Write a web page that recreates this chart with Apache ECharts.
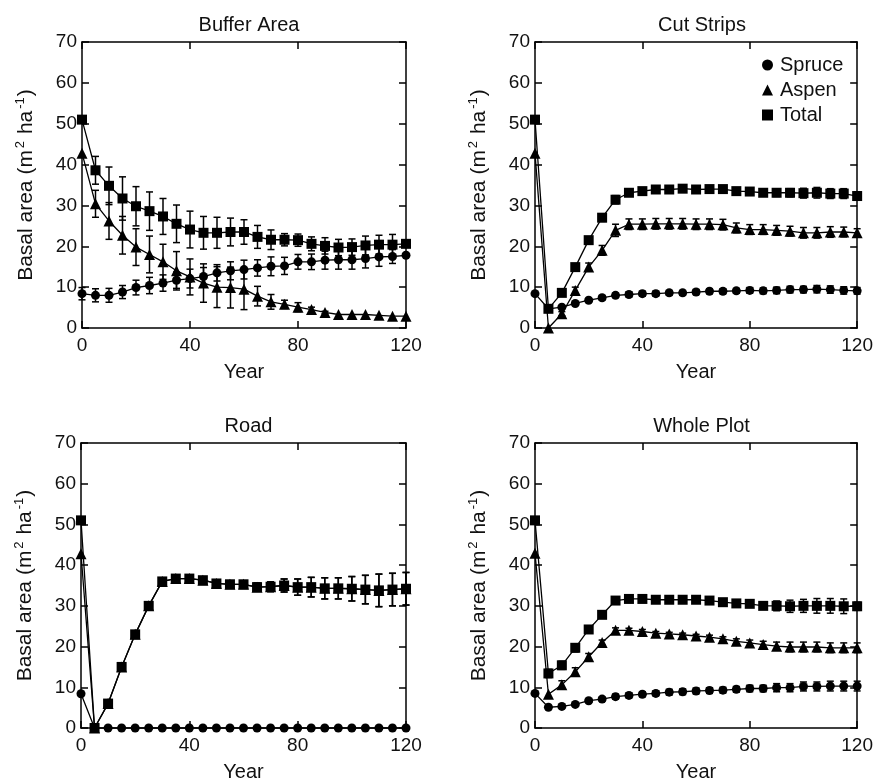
<!DOCTYPE html>
<html>
<head>
<meta charset="utf-8">
<script src="https://cdn.jsdelivr.net/npm/echarts@6/dist/echarts.min.js"></script>
<style>
  html, body { margin: 0; padding: 0; background: #fff; }
  #main { width: 876px; height: 783px; }
</style>
</head>
<body>
<div id="main"></div>
<script>
// years of simulation
var years = [0,5,10,15,20,25,30,35,40,45,50,55,60,65,70,75,80,85,90,95,100,105,110,115,120];
var panelTitles = ['Buffer Area', 'Cut Strips', 'Road', 'Whole Plot'];
var seriesNames = ['Spruce', 'Aspen', 'Total'];

// Buffer Area
var bufSpruce = [8.4,8,8,8.8,9.9,10.4,11,11.7,12.1,12.6,13.5,14,14.3,14.7,15.1,15.2,16.2,16.2,16.6,16.7,16.7,17,17.4,17.5,17.8];
var bufSpruceErr = [1.5,1.6,1.7,1.6,1.8,2,2,2,2.3,2.2,2,2.2,2.3,2,2.3,2.1,1.8,1.9,2.2,2.3,2.3,2.3,2.3,1.7,0];
var bufAspen = [42.8,30.4,26.2,22.7,19.8,18,16.2,14,12.5,11,10,9.9,9.5,7.8,6.4,5.8,5.1,4.5,3.8,3.3,3.3,3.3,3.1,2.9,2.9];
var bufAspenErr = [0,3.3,4.5,4.6,4.5,4.5,4.3,4.7,4.4,4.7,5,5,5,2.4,1.8,1,1.1,0.6,0.3,0,0,0,0,0,0];
var bufTotal = [51,38.6,34.8,31.7,29.8,28.6,27.3,25.5,24.1,23.3,23.3,23.5,23.5,22.3,21.6,21.6,21.5,20.6,20.1,19.7,19.8,20.2,20.4,20.4,20.6];
var bufTotalErr = [0,3.4,4.6,5.3,4.8,4.7,4.4,4.6,4.5,4,3.8,3.4,3,2.8,2.4,1.5,1.5,1.7,2,2,2,2.3,2.3,2.5,0.5];

// Cut Strips
var cutSpruce = [8.4,4.7,5.1,6,6.8,7.4,8,8.2,8.4,8.4,8.6,8.6,8.8,9,9,9.1,9.2,9.1,9.2,9.4,9.4,9.5,9.4,9.2,9.1];
var cutSpruceErr = [0,0,0,0,0.4,0.5,0.5,0.6,0.6,0.6,0.6,0.6,0.6,0.6,0.6,0.6,0.7,0.7,0.8,0.8,0.8,0.9,0.9,0.9,0.8];
var cutAspen = [42.8,0,3.5,9.2,14.9,19,23.9,25.4,25.4,25.5,25.5,25.5,25.4,25.4,25.3,24.5,24.1,24.1,23.9,23.7,23.3,23.3,23.5,23.5,23.3];
var cutAspenErr = [0,0,0.5,0.8,1,1.2,1.5,1.3,1.3,1.3,1.3,1.3,1.3,1.3,1.3,1.2,1.2,1.2,1.2,1.2,1.3,1.3,1.3,1.2,1];
var cutTotal = [51,4.7,8.6,14.9,21.5,27,31.4,33.1,33.5,33.9,33.9,34.1,33.9,34,34,33.5,33.4,33.1,33.1,33.1,33,33.1,32.9,32.9,32.3];
var cutTotalErr = [0,0,0.5,0.7,0.8,0.9,1,0.6,0.5,0.5,0.5,0.5,0.5,0.5,0.6,0.7,0.8,0.8,0.9,1,1.2,1.3,1.2,1.2,1];

// Road
var roadSpruce = [8.4,0,0,0,0,0,0,0,0,0,0,0,0,0,0,0,0,0,0,0,0,0,0,0,0];
var roadSpruceErr = [0,0,0,0,0,0,0,0,0,0,0,0,0,0,0,0,0,0,0,0,0,0,0,0,0];
var roadAspen = [42.8,0,6,15,23,30,36,36.7,36.7,36.3,35.5,35.3,35.3,34.6,34.7,35,34.6,34.6,34.3,34.3,34.2,34,33.8,34,34.2];
var roadAspenErr = [0,0,0,0,0,0,0,0,0,0,0,0,0,1,1.2,1.6,2,2.4,2.6,2.6,3,3.5,4,4,4];
var roadTotal = [51,0,6,15,23,30,36,36.7,36.7,36.3,35.5,35.3,35.3,34.6,34.7,35,34.6,34.6,34.3,34.3,34.2,34,33.8,34,34.2];
var roadTotalErr = [0,0,0,0,0,0,0,0,0,0,0,0,0,1,1.2,1.6,2,2.4,2.6,2.6,3,3.5,4,4,4];

// Whole Plot
var wholeSpruce = [8.5,5.1,5.3,5.8,6.7,7.1,7.7,8,8.3,8.5,8.8,8.9,9.1,9.2,9.3,9.5,9.7,9.7,9.9,9.9,10.2,10.2,10.3,10.3,10.3];
var wholeSpruceErr = [0,0,0,0,0.4,0.5,0.6,0.6,0.6,0.6,0.7,0.7,0.7,0.7,0.7,0.7,0.8,0.8,1,1,1.1,1.1,1.2,1.2,1.2];
var wholeAspen = [42.9,8.3,10.6,13.8,17.5,21,24,24,23.7,23.3,23.1,22.9,22.6,22.3,21.9,21.3,20.9,20.5,20.1,19.9,19.9,19.9,19.7,19.7,19.7];
var wholeAspenErr = [0,0,1,1,0.8,0.6,0.6,0.5,0.5,0.4,0.4,0.4,0.4,0.5,0.5,0.6,0.7,0.8,1,1.2,1.2,1.2,1.2,1.2,1.2];
var wholeTotal = [51,13.4,15.4,19.7,24.2,27.8,31.3,31.7,31.7,31.5,31.5,31.5,31.5,31.3,30.9,30.6,30.5,30,30,29.9,30,30,30,29.9,29.9];
var wholeTotalErr = [0,1,1,1,0.5,0.5,0.5,0.5,0.5,0.5,0.5,0.5,0.5,0.5,0.6,0.6,0.7,0.8,1.2,1.5,1.6,1.8,1.8,1.8,1];

var panels = [
  [bufSpruce, bufSpruceErr, bufAspen, bufAspenErr, bufTotal, bufTotalErr],
  [cutSpruce, cutSpruceErr, cutAspen, cutAspenErr, cutTotal, cutTotalErr],
  [roadSpruce, roadSpruceErr, roadAspen, roadAspenErr, roadTotal, roadTotalErr],
  [wholeSpruce, wholeSpruceErr, wholeAspen, wholeAspenErr, wholeTotal, wholeTotalErr]
];

var font = 'Liberation Sans, Arial, Helvetica, sans-serif';
var symbols = ['circle', 'triangle', 'rect'];
var symbolSizes = [9, 11, 10];

var grids = [
  {left: 82, top: 42, width: 324, height: 286},
  {left: 535, top: 42, width: 324, height: 286},
  {left: 81, top: 443, width: 325, height: 286},
  {left: 535, top: 443, width: 323, height: 287}
];

var xAxes = [], yAxes = [], series = [], titles = [];
var axisLine = {onZero: false, lineStyle: {color: '#000', width: 1.5}};
var tick = {inside: true, length: 7, lineStyle: {color: '#000', width: 1.5}};

grids.forEach(function (g, i) {
  titles.push({
    text: panelTitles[i],
    left: g.left + g.width / 2,
    top: g.top - 32,
    textAlign: 'center',
    textStyle: {fontFamily: font, fontSize: 20, fontWeight: 'normal', color: '#111'}
  });
  // bottom and top x axes
  xAxes.push({
    type: 'value', gridIndex: i, min: 0, max: 120, interval: 40,
    name: 'Year', nameLocation: 'middle', nameGap: 34,
    nameTextStyle: {fontFamily: font, fontSize: 20, color: '#111'},
    axisLine: axisLine, axisTick: tick,
    axisLabel: {fontFamily: font, fontSize: 19, color: '#111', margin: 8},
    splitLine: {show: false}
  });
  xAxes.push({
    type: 'value', gridIndex: i, min: 0, max: 120, interval: 40, position: 'top',
    axisLine: axisLine, axisTick: tick,
    axisLabel: {show: false}, splitLine: {show: false}
  });
  // left and right y axes
  yAxes.push({
    type: 'value', gridIndex: i, min: 0, max: 70, interval: 10,
    name: '{t|Basal area (m}{s|2}{t| ha}{s|-1}{t|)}', nameLocation: 'middle', nameGap: 43, nameRotate: 90,
    nameTextStyle: {
      fontFamily: font, fontSize: 21, color: '#111',
      rich: {
        t: {fontFamily: font, fontSize: 21, color: '#111'},
        s: {fontFamily: font, fontSize: 13, color: '#111', padding: [0, 1, 12, 2]}
      }
    },
    axisLine: axisLine, axisTick: tick,
    axisLabel: {fontFamily: font, fontSize: 19, color: '#111', margin: 5},
    splitLine: {show: false}
  });
  yAxes.push({
    type: 'value', gridIndex: i, min: 0, max: 70, interval: 10, position: 'right',
    axisLine: axisLine, axisTick: tick,
    axisLabel: {show: false}, splitLine: {show: false}
  });

  var d = panels[i];
  for (var s = 0; s < 3; s++) {
    var vals = d[s * 2], errs = d[s * 2 + 1];
    series.push({
      name: seriesNames[s],
      type: 'line',
      xAxisIndex: i * 2, yAxisIndex: i * 2,
      data: years.map(function (y, k) { return [y, vals[k]]; }),
      symbol: symbols[s], symbolSize: symbolSizes[s],
      showAllSymbol: true, clip: false,
      lineStyle: {color: '#000', width: 1.3},
      itemStyle: {color: '#000'},
      emphasis: {disabled: true},
      z: 3
    });
    var errData = [];
    years.forEach(function (y, k) {
      if (errs[k] > 0) errData.push([y, vals[k] - errs[k], vals[k] + errs[k]]);
    });
    series.push({
      type: 'custom',
      xAxisIndex: i * 2, yAxisIndex: i * 2,
      data: errData,
      encode: {x: 0, y: [1, 2]},
      z: 2,
      renderItem: function (params, api) {
        var x = api.value(0);
        var lo = api.coord([x, api.value(1)]);
        var hi = api.coord([x, api.value(2)]);
        var h = 3.5;
        var st = {stroke: '#000', lineWidth: 1.5};
        return {
          type: 'group',
          children: [
            {type: 'line', shape: {x1: lo[0], y1: lo[1], x2: hi[0], y2: hi[1]}, style: st},
            {type: 'line', shape: {x1: lo[0] - h, y1: lo[1], x2: lo[0] + h, y2: lo[1]}, style: st},
            {type: 'line', shape: {x1: hi[0] - h, y1: hi[1], x2: hi[0] + h, y2: hi[1]}, style: st}
          ]
        };
      }
    });
  }
});

var chart = echarts.init(document.getElementById('main'));
chart.setOption({
  backgroundColor: '#fff',
  animation: false,
  title: titles,
  legend: {
    orient: 'vertical', left: 757, top: 50, itemGap: 5,
    itemWidth: 11, itemHeight: 11,
    selectedMode: false,
    textStyle: {fontFamily: font, fontSize: 20, color: '#111', padding: [0, 0, 0, 2]},
    data: [
      {name: 'Spruce', icon: 'circle'},
      {name: 'Aspen', icon: 'triangle'},
      {name: 'Total', icon: 'rect'}
    ],
    itemStyle: {color: '#000'}
  },
  grid: grids,
  xAxis: xAxes,
  yAxis: yAxes,
  series: series
});
</script>
</body>
</html>
